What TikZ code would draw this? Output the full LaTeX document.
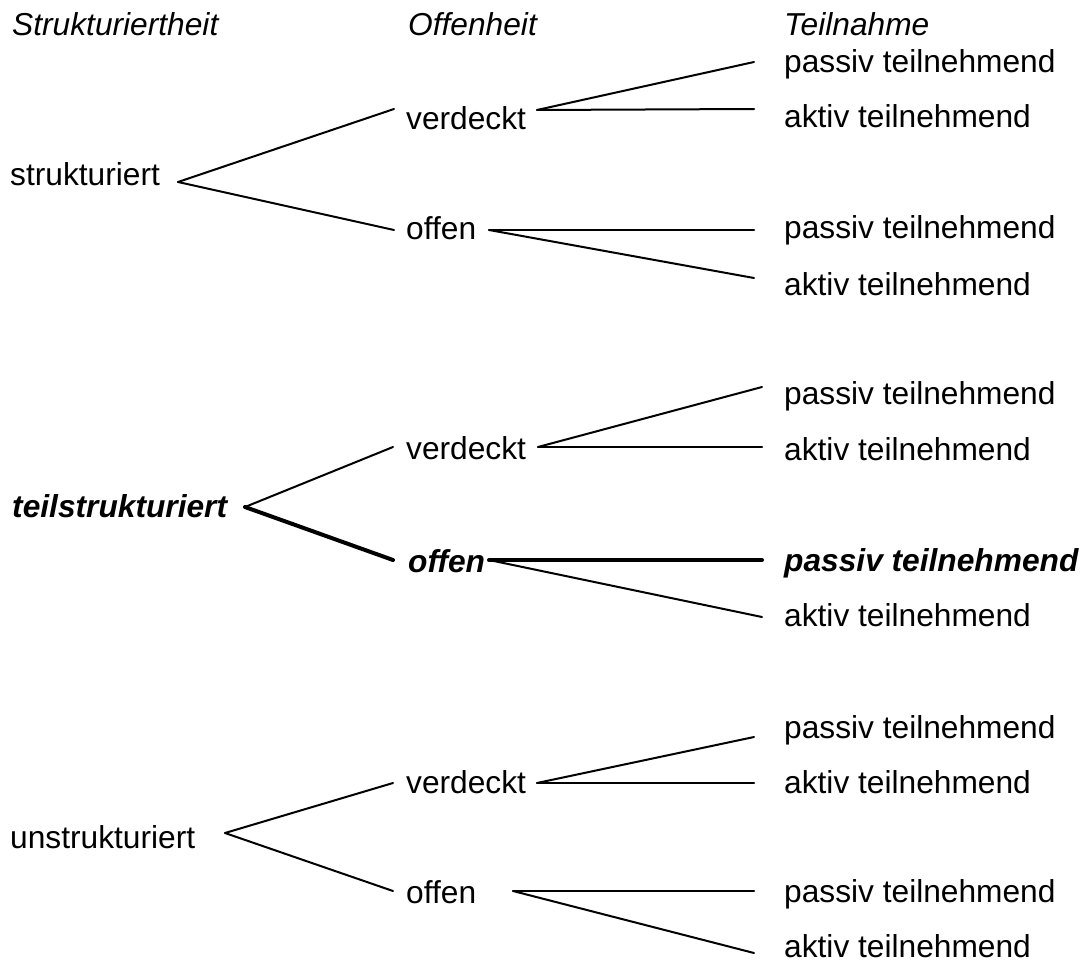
\documentclass[tikz,border=0pt]{standalone}
\usepackage{fontspec}
\setmainfont{Liberation Sans}
\begin{document}
\begin{tikzpicture}[x=1pt,y=-1pt,
  lbl/.style={anchor=base west, inner sep=0pt, font=\fontsize{31.7}{38}\selectfont},
  hdr/.style={lbl, font=\fontsize{31.7}{38}\selectfont\itshape},
  hil/.style={lbl, font=\fontsize{31.7}{38}\selectfont\bfseries\itshape},
  branch/.style={line width=2pt, line cap=round},
  chosen/.style={line width=4pt, line cap=round}]
\useasboundingbox (0,0) rectangle (1092,963);

% column headings
\node[hdr] (hS) at (12,36) {Strukturiertheit};
\node[hdr] (hO) at (408,36) {Offenheit};
\node[hdr] (hT) at (784,36) {Teilnahme};

% ---------- strukturiert ----------
\node[lbl] (s1)  at (10,185)  {strukturiert};
\node[lbl] (v1)  at (406,130) {verdeckt};
\node[lbl] (o1)  at (406,239) {offen};
\node[lbl] (p1a) at (784,73)  {passiv teilnehmend};
\node[lbl] (a1a) at (784,128) {aktiv teilnehmend};
\node[lbl] (p1b) at (784,238) {passiv teilnehmend};
\node[lbl] (a1b) at (784,295) {aktiv teilnehmend};

\coordinate (s1r) at (178,182);
\coordinate (v1l) at (394,109);  \coordinate (v1r) at (537,110);
\coordinate (o1l) at (394,230);  \coordinate (o1r) at (489,230);
\coordinate (p1al) at (754,62);  \coordinate (a1al) at (754,109);
\coordinate (p1bl) at (754,230); \coordinate (a1bl) at (754,278);

\draw[branch] (s1r) -- (v1l);
\draw[branch] (s1r) -- (o1l);
\draw[branch] (v1r) -- (p1al);
\draw[branch] (v1r) -- (a1al);
\draw[branch] (o1r) -- (p1bl);
\draw[branch] (o1r) -- (a1bl);

% ---------- teilstrukturiert ----------
\node[hil] (s2)  at (12,517)  {teilstrukturiert};
\node[lbl] (v2)  at (406,459) {verdeckt};
\node[hil] (o2)  at (408,572) {offen};
\node[lbl] (p2a) at (784,404) {passiv teilnehmend};
\node[lbl] (a2a) at (784,460) {aktiv teilnehmend};
\node[hil] (p2b) at (784,571) {passiv teilnehmend};
\node[lbl] (a2b) at (784,626) {aktiv teilnehmend};

\coordinate (s2r) at (245,507);
\coordinate (v2l) at (393,447);  \coordinate (v2r) at (538,447);
\coordinate (o2l) at (393,560);  \coordinate (o2r) at (489,560);
\coordinate (p2al) at (762,387); \coordinate (a2al) at (762,447);
\coordinate (p2bl) at (762,560); \coordinate (a2bl) at (762,617);

\draw[branch] (s2r) -- (v2l);
\draw[chosen] (s2r) -- (o2l);
\draw[branch] (v2r) -- (p2al);
\draw[branch] (v2r) -- (a2al);
\draw[chosen] (o2r) -- (p2bl);
\draw[branch] (o2r) -- (a2bl);

% ---------- unstrukturiert ----------
\node[lbl] (s3)  at (10,848)  {unstrukturiert};
\node[lbl] (v3)  at (406,793) {verdeckt};
\node[lbl] (o3)  at (406,903) {offen};
\node[lbl] (p3a) at (784,738) {passiv teilnehmend};
\node[lbl] (a3a) at (784,793) {aktiv teilnehmend};
\node[lbl] (p3b) at (784,902) {passiv teilnehmend};
\node[lbl] (a3b) at (784,957) {aktiv teilnehmend};

\coordinate (s3r) at (225,833);
\coordinate (v3l) at (393,783);  \coordinate (v3r) at (537,783);
\coordinate (o3l) at (393,891);  \coordinate (o3r) at (513,891);
\coordinate (p3al) at (754,737); \coordinate (a3al) at (754,783);
\coordinate (p3bl) at (754,891); \coordinate (a3bl) at (754,953);

\draw[branch] (s3r) -- (v3l);
\draw[branch] (s3r) -- (o3l);
\draw[branch] (v3r) -- (p3al);
\draw[branch] (v3r) -- (a3al);
\draw[branch] (o3r) -- (p3bl);
\draw[branch] (o3r) -- (a3bl);
\end{tikzpicture}
\end{document}
